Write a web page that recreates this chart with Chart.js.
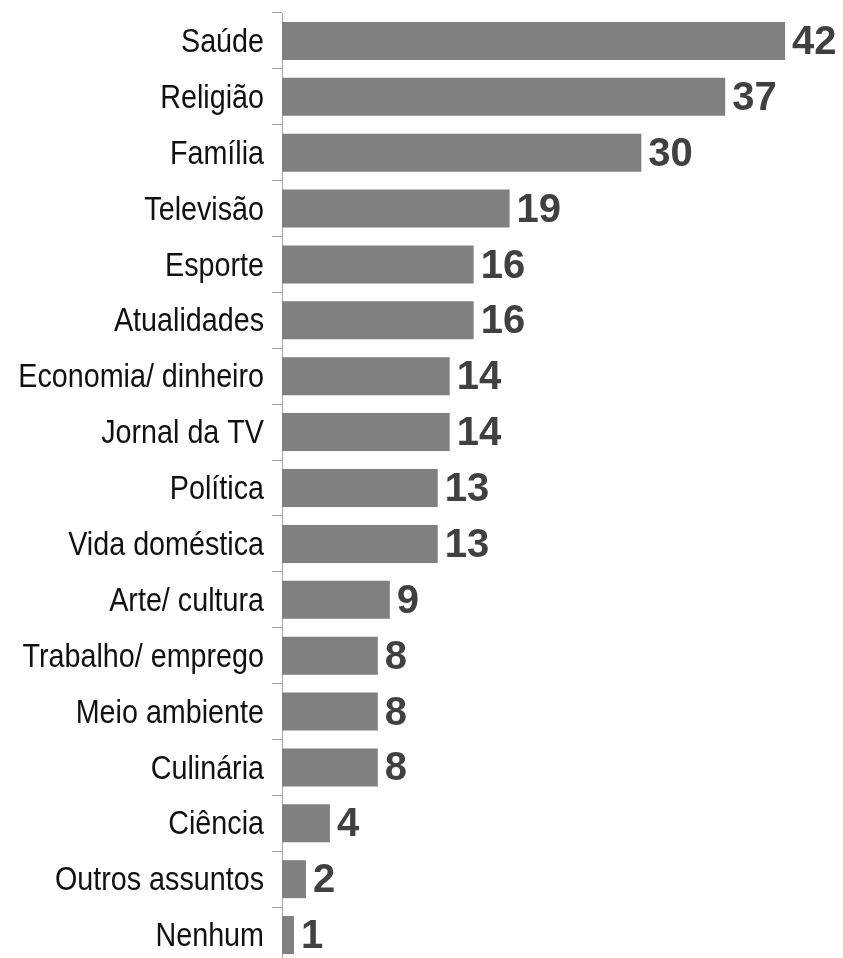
<!DOCTYPE html>
<html>
<head>
<meta charset="utf-8">
<script src="https://cdn.jsdelivr.net/npm/chart.js@4"></script>
<style>
  html, body { margin: 0; padding: 0; background: #fff; overflow: hidden; }
  #wrap { position: relative; width: 843px; height: 966px; }
</style>
</head>
<body>
<div id="wrap"><canvas id="chart"></canvas></div>
<script>
const categories = [
  "Saúde", "Religião", "Família", "Televisão", "Esporte", "Atualidades",
  "Economia/ dinheiro", "Jornal da TV", "Política", "Vida doméstica",
  "Arte/ cultura", "Trabalho/ emprego", "Meio ambiente", "Culinária",
  "Ciência", "Outros assuntos", "Nenhum"
];
const values = [42, 37, 30, 19, 16, 16, 14, 14, 13, 13, 9, 8, 8, 8, 4, 2, 1];

// bold number to the right of each bar
const valueLabels = {
  id: "valueLabels",
  afterDatasetsDraw(chart) {
    const ctx = chart.ctx;
    const meta = chart.getDatasetMeta(0);
    ctx.save();
    ctx.font = "bold 40px 'Liberation Sans', Arial, sans-serif";
    ctx.fillStyle = "#404040";
    ctx.textAlign = "left";
    ctx.textBaseline = "middle";
    meta.data.forEach((bar, i) => {
      ctx.fillText(String(values[i]), bar.x + 7, bar.y + 2);
    });
    ctx.restore();
  },
};

// category names, narrow like the original (no condensed font installed)
const narrowLabels = {
  id: "narrowLabels",
  afterDraw(chart) {
    const ctx = chart.ctx;
    const y = chart.scales.y;
    const right = y.right - 10 - 8;
    ctx.save();
    ctx.font = "33px 'Liberation Sans', Arial, sans-serif";
    ctx.fillStyle = "#111";
    ctx.textAlign = "right";
    ctx.textBaseline = "middle";
    y.ticks.forEach((t, i) => {
      ctx.save();
      ctx.translate(right, y.getPixelForTick(i) + 2);
      ctx.scale(0.87, 1);
      ctx.fillText(y.getLabelForValue(t.value), 0, 0);
      ctx.restore();
    });
    ctx.restore();
  },
};

new Chart(document.getElementById("chart"), {
  type: "bar",
  data: {
    labels: categories,
    datasets: [{
      data: values,
      backgroundColor: "#808080",
      barPercentage: 0.68,
      categoryPercentage: 1,
    }],
  },
  options: {
    indexAxis: "y",
    responsive: true,
    maintainAspectRatio: false,
    animation: false,
    layout: { padding: { top: 13, right: 10, left: 0, bottom: 3 } },
    plugins: {
      legend: { display: false },
      tooltip: { enabled: false },
    },
    scales: {
      x: {
        display: false,
        min: 0,
        max: 46,
      },
      y: {
        afterFit(scale) {
          scale.width = 282;
          scale.paddingTop = 0;
          scale.paddingBottom = 0;
        },
        border: { display: true, color: "#a6a6a6", width: 1 },
        grid: {
          offset: true,
          drawOnChartArea: false,
          drawTicks: true,
          tickLength: 10,
          color: "#a6a6a6",
        },
        ticks: { display: false },
      },
    },
  },
  plugins: [valueLabels, narrowLabels],
});
</script>
</body>
</html>
